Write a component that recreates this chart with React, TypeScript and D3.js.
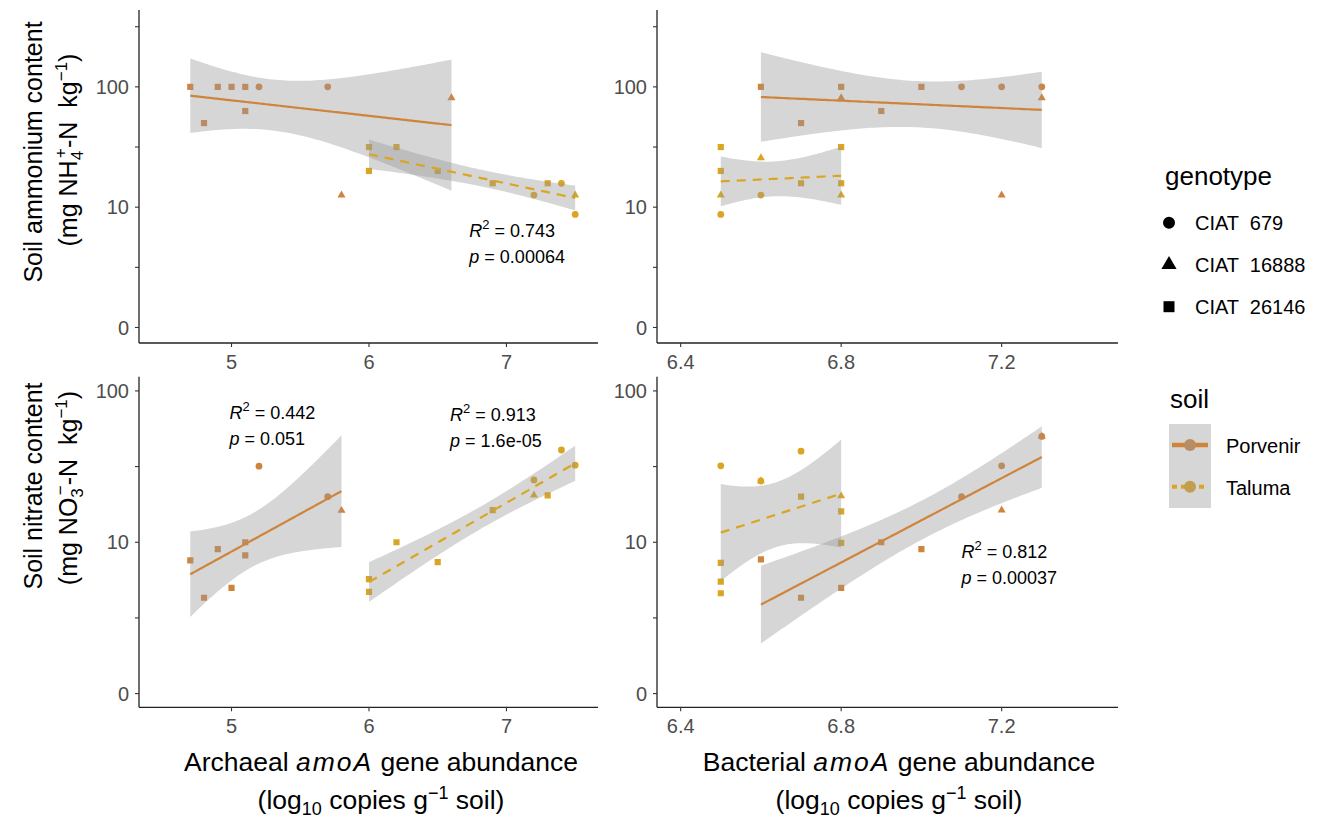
import React from 'react';
import * as d3 from 'd3';

// ---- data (x = log10 copies, y = mg kg-1) ----
// genotype index: 0 = CIAT 679 (circle), 1 = CIAT 16888 (triangle), 2 = CIAT 26146 (square)
const genotypes = ['CIAT  679', 'CIAT  16888', 'CIAT  26146'];
const soils = ['Porvenir', 'Taluma'];

// archaeal amoA vs ammonium
const archNH4PorX = [4.7, 4.8, 4.9, 5.0, 5.1, 5.1, 5.2, 5.7, 5.8, 6.6];
const archNH4PorY = [100, 50, 100, 100, 100, 63, 100, 100, 12.6, 81];
const archNH4PorG = [2, 2, 2, 2, 2, 2, 0, 0, 1, 1];
const archNH4TalX = [6.0, 6.0, 6.2, 6.5, 6.9, 7.2, 7.3, 7.4, 7.5, 7.5];
const archNH4TalY = [31.6, 20, 31.6, 20, 15.8, 12.6, 15.8, 15.8, 12.6, 8.7];
const archNH4TalG = [2, 2, 2, 2, 2, 0, 2, 0, 1, 0];

// bacterial amoA vs ammonium
const bacNH4PorX = [6.6, 6.7, 6.8, 6.8, 6.9, 7.0, 7.1, 7.2, 7.2, 7.3, 7.3];
const bacNH4PorY = [100, 50, 100, 81, 63, 100, 100, 100, 12.6, 100, 81];
const bacNH4PorG = [2, 2, 2, 1, 2, 2, 0, 0, 1, 0, 1];
const bacNH4TalX = [6.5, 6.5, 6.5, 6.5, 6.6, 6.6, 6.7, 6.8, 6.8, 6.8];
const bacNH4TalY = [31.6, 20, 12.6, 8.7, 25.7, 12.6, 15.8, 31.6, 15.8, 12.6];
const bacNH4TalG = [2, 2, 1, 0, 1, 0, 2, 2, 2, 1];

// archaeal amoA vs nitrate
const archNO3PorX = [4.7, 4.8, 4.9, 5.0, 5.1, 5.1, 5.2, 5.7, 5.8];
const archNO3PorY = [7.6, 4.3, 9, 5, 10, 8.2, 31.8, 20, 16.2];
const archNO3PorG = [2, 2, 2, 2, 2, 2, 0, 0, 1];
const archNO3TalX = [6.0, 6.0, 6.2, 6.5, 6.9, 7.2, 7.2, 7.3, 7.4, 7.5];
const archNO3TalY = [5.7, 4.7, 10, 7.4, 16.3, 25.8, 20.5, 20.4, 40.7, 32.3];
const archNO3TalG = [2, 2, 2, 2, 2, 0, 1, 2, 0, 0];

// bacterial amoA vs nitrate
const bacNO3PorX = [6.6, 6.7, 6.8, 6.9, 7.0, 7.1, 7.2, 7.2, 7.3, 7.3];
const bacNO3PorY = [7.7, 4.3, 5.0, 10, 9, 20, 32, 16.3, 50, 50];
const bacNO3PorG = [2, 2, 2, 2, 2, 0, 0, 1, 0, 1];
const bacNO3TalX = [6.5, 6.5, 6.5, 6.5, 6.6, 6.6, 6.7, 6.7, 6.8, 6.8, 6.8];
const bacNO3TalY = [32, 7.3, 5.5, 4.6, 25.4, 25.4, 40, 20, 20.2, 16, 9.9];
const bacNO3TalG = [0, 2, 2, 2, 0, 1, 0, 2, 1, 2, 2];

const xTicksArch = [5, 6, 7];
const xTicksBac = [6.4, 6.8, 7.2];
const yTicks = [1, 10, 100];
const yTickLabels = ['0', '10', '100'];
const yMinorTicks = [3.162, 31.62, 316.2];

const statsText = [
  { panel: 0, x: 6.73, y: 5.69, r2: '0.743', p: '0.00064' },
  { panel: 2, x: 4.985, y: 65, r2: '0.442', p: '0.051' },
  { panel: 2, x: 6.59, y: 63.4, r2: '0.913', p: '1.6e-05' },
  { panel: 3, x: 7.1, y: 7.84, r2: '0.812', p: '0.00037' },
];

// ---- style ----
const COL = ['#CF843C', '#DAA520'];
const COL_UNDER = ['#B88D63', '#C0A050'];
const FONT = '"Liberation Sans", Arial, Helvetica, sans-serif';
const T975 = [NaN, 12.706, 4.303, 3.182, 2.776, 2.571, 2.447, 2.365, 2.306, 2.262, 2.228, 2.201, 2.179];
const shapes = [d3.symbolCircle, d3.symbolTriangle, d3.symbolSquare];
const ptSize = [36, 28, 38];

const cols = [
  { range: [139, 598], domain: [4.327, 7.666], ticks: xTicksArch },
  { range: [657, 1118], domain: [6.341, 7.49], ticks: xTicksBac },
];
const rows = [
  { range: [343, 10], domain: [Math.pow(10, -0.129), Math.pow(10, 2.639)] },
  { range: [707.3, 376.7], domain: [Math.pow(10, -0.0906), Math.pow(10, 2.094)] },
];

const panels = [
  { row: 0, col: 0, groups: [[archNH4PorX, archNH4PorY, archNH4PorG], [archNH4TalX, archNH4TalY, archNH4TalG]] },
  { row: 0, col: 1, groups: [[bacNH4PorX, bacNH4PorY, bacNH4PorG], [bacNH4TalX, bacNH4TalY, bacNH4TalG]] },
  { row: 1, col: 0, groups: [[archNO3PorX, archNO3PorY, archNO3PorG], [archNO3TalX, archNO3TalY, archNO3TalG]] },
  { row: 1, col: 1, groups: [[bacNO3PorX, bacNO3PorY, bacNO3PorG], [bacNO3TalX, bacNO3TalY, bacNO3TalG]] },
];

// lm fit on log10(y) with 95% confidence band, like geom_smooth(method = "lm")
function fitBand(xs: number[], ys: number[]) {
  const n = xs.length;
  const ly = ys.map(v => Math.log10(v));
  const mx = d3.mean(xs) as number;
  const my = d3.mean(ly) as number;
  const sxx = d3.sum(xs, v => (v - mx) ** 2);
  const sxy = d3.sum(xs, (v, i) => (v - mx) * (ly[i] - my));
  const b = sxy / sxx;
  const a = my - b * mx;
  const sse = d3.sum(xs, (v, i) => (ly[i] - a - b * v) ** 2);
  const s = Math.sqrt(sse / (n - 2));
  const t = T975[n - 2];
  const [x0, x1] = d3.extent(xs) as [number, number];
  return d3.range(80).map(i => {
    const xv = x0 + ((x1 - x0) * i) / 79;
    const f = a + b * xv;
    const se = s * Math.sqrt(1 / n + (xv - mx) ** 2 / sxx);
    return { x: xv, y: 10 ** f, lo: 10 ** (f - t * se), hi: 10 ** (f + t * se) };
  });
}

function Panel({ p, idx }: { p: any; idx: number }) {
  const c = cols[p.col];
  const r = rows[p.row];
  const x = d3.scaleLinear().domain(c.domain).range(c.range);
  const y = d3.scaleLog().domain(r.domain).range(r.range);
  const area = d3.area<any>().x(d => x(d.x)).y0(d => y(d.lo)).y1(d => y(d.hi));
  const line = d3.line<any>().x(d => x(d.x)).y(d => y(d.y));
  const x0 = c.range[0], x1 = c.range[1];
  const yb = r.range[0], yt = r.range[1];
  const clipId = 'clip' + idx;
  const notes = statsText.filter(s => s.panel === idx);
  return (
    <g>
      <defs>
        <clipPath id={clipId}>
          <rect x={x0} y={yt} width={x1 - x0} height={yb - yt} />
        </clipPath>
      </defs>
      <g clipPath={`url(#${clipId})`}>
        {p.groups.map((g: any, si: number) =>
          g[0].map((xv: number, i: number) => (
            <path
              key={`pt${si}-${i}`}
              d={d3.symbol().type(shapes[g[2][i]]).size(ptSize[g[2][i]])() as string}
              transform={`translate(${x(xv)},${y(g[1][i])})`}
              fill={COL[si]}
            />
          ))
        )}
        {p.groups.map((g: any, si: number) => {
          const band = fitBand(g[0], g[1]);
          return (
            <g key={'fit' + si}>
              <path d={area(band) as string} fill="#999999" fillOpacity={0.4} />
              <path
                d={line(band) as string}
                fill="none"
                stroke={COL[si]}
                strokeWidth={2.2}
                strokeDasharray={si === 1 ? '9,7' : undefined}
              />
            </g>
          );
        })}
      </g>
      {/* axes */}
      <line x1={x0} x2={x0} y1={yt} y2={yb} stroke="#222" strokeWidth={1.3} />
      <line x1={x0} x2={x1} y1={yb} y2={yb} stroke="#222" strokeWidth={1.3} />
      {[...yTicks, ...yMinorTicks]
        .filter(v => y(v) >= yt - 0.5 && y(v) <= yb)
        .map(v => (
          <line key={'yt' + v} x1={x0 - 4} x2={x0} y1={y(v)} y2={y(v)} stroke="#333" strokeWidth={1.1} />
        ))}
      {yTicks.map((v, i) => (
        <text key={'yl' + v} x={x0 - 10} y={y(v)} dy="0.36em" textAnchor="end" fontSize={20} fill="#4D4D4D">
          {yTickLabels[i]}
        </text>
      ))}
      {c.ticks.map(v => (
        <g key={'xt' + v}>
          <line x1={x(v)} x2={x(v)} y1={yb} y2={yb + 4} stroke="#333" strokeWidth={1.1} />
          <text x={x(v)} y={yb + 26} textAnchor="middle" fontSize={20} fill="#4D4D4D">
            {v.toString()}
          </text>
        </g>
      ))}
      {notes.map((n, i) => (
        <g key={'n' + i} fontSize={18} fill="#000">
          <text x={x(n.x)} y={y(n.y)}>
            <tspan fontStyle="italic">R</tspan>
            <tspan dy={-8} fontSize={13}>2</tspan>
            <tspan dy={8} style={{ whiteSpace: 'pre' }}>{' = ' + n.r2}</tspan>
          </text>
          <text x={x(n.x)} y={y(n.y) + 26}>
            <tspan fontStyle="italic">p</tspan>
            <tspan style={{ whiteSpace: 'pre' }}>{' = ' + n.p}</tspan>
          </text>
        </g>
      ))}
    </g>
  );
}

export default function App() {
  const legSym = [113, 100, 121];
  return (
    <svg
      width={1320}
      height={818}
      style={{ position: 'absolute', left: 0, top: 0, background: '#fff' }}
      fontFamily={FONT}
    >
      <rect width={1320} height={818} fill="#fff" />
      {panels.map((p, i) => (
        <Panel key={i} p={p} idx={i} />
      ))}

      {/* y titles */}
      <g fontSize={25} textAnchor="middle" fill="#000">
        <text transform="translate(42,152) rotate(-90)">Soil ammonium content</text>
        <text transform="translate(77,150) rotate(-90)">
          <tspan>(mg NH</tspan>
          <tspan dy={6} fontSize={17}>4</tspan>
          <tspan dx={-7} dy={-17} fontSize={17}>+</tspan>
          <tspan dy={11} style={{ whiteSpace: 'pre' }}>{'-N  kg'}</tspan>
          <tspan dy={-10} fontSize={17}>−1</tspan>
          <tspan dy={10}>)</tspan>
        </text>
        <text transform="translate(42,486) rotate(-90)">Soil nitrate content</text>
        <text transform="translate(77,488) rotate(-90)">
          <tspan>(mg NO</tspan>
          <tspan dy={6} fontSize={17}>3</tspan>
          <tspan dx={-7} dy={-17} fontSize={17}>−</tspan>
          <tspan dy={11} style={{ whiteSpace: 'pre' }}>{'-N  kg'}</tspan>
          <tspan dy={-10} fontSize={17}>−1</tspan>
          <tspan dy={10}>)</tspan>
        </text>
      </g>

      {/* x titles */}
      <g fontSize={26.5} textAnchor="middle" fill="#000">
        <text x={381} y={771}>
          Archaeal <tspan fontStyle="italic" letterSpacing={2}>amoA</tspan> gene abundance
        </text>
        <text x={381} y={809}>
          (log<tspan dy={6} fontSize={18}>10</tspan>
          <tspan dy={-6}> copies g</tspan>
          <tspan dy={-10} fontSize={18}>−1</tspan>
          <tspan dy={10}> soil)</tspan>
        </text>
        <text x={899} y={771}>
          Bacterial <tspan fontStyle="italic" letterSpacing={2}>amoA</tspan> gene abundance
        </text>
        <text x={899} y={809}>
          (log<tspan dy={6} fontSize={18}>10</tspan>
          <tspan dy={-6}> copies g</tspan>
          <tspan dy={-10} fontSize={18}>−1</tspan>
          <tspan dy={10}> soil)</tspan>
        </text>
      </g>

      {/* genotype legend */}
      <text x={1165} y={185} fontSize={26} fill="#000">genotype</text>
      {genotypes.map((g, i) => {
        const cy = 222.7 + i * 42;
        return (
          <g key={g}>
            <path
              d={d3.symbol().type(shapes[i]).size(legSym[i])() as string}
              transform={`translate(1169,${cy})`}
              fill="#000"
            />
            <text x={1195} y={cy + 7.5} fontSize={20} fill="#000" style={{ whiteSpace: 'pre' }}>
              {g}
            </text>
          </g>
        );
      })}

      {/* soil legend */}
      <text x={1170} y={408} fontSize={26} fill="#000">soil</text>
      <rect x={1169} y={424} width={42} height={84} fill="#999999" fillOpacity={0.4} />
      {soils.map((s, i) => {
        const cy = 445 + i * 41.7;
        return (
          <g key={s}>
            <line
              x1={1172}
              x2={1208}
              y1={cy}
              y2={cy}
              stroke={COL[i]}
              strokeWidth={i === 0 ? 4.5 : 4}
              strokeDasharray={i === 1 ? '5,4' : undefined}
            />
            <circle cx={1190} cy={cy} r={6} fill={COL_UNDER[i]} />
            <text x={1226} y={cy + 8} fontSize={20} fill="#000">
              {s}
            </text>
          </g>
        );
      })}
    </svg>
  );
}
